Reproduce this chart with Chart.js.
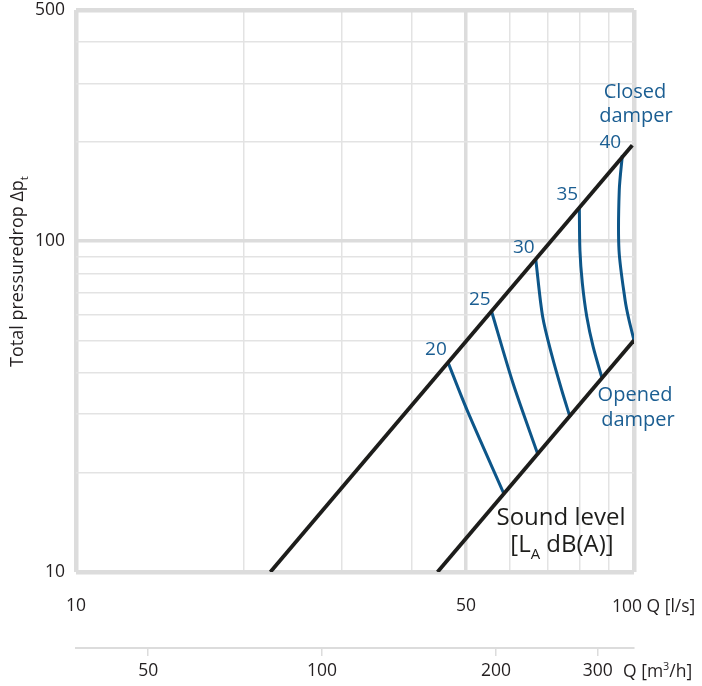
<!DOCTYPE html>
<html>
<head>
<meta charset="utf-8">
<script src="https://cdn.jsdelivr.net/npm/chart.js@4.4.1/dist/chart.umd.min.js"></script>
<style>
  html, body { margin: 0; padding: 0; background: #fff; }
  #wrap { width: 702px; height: 686px; position: relative; }
</style>
</head>
<body>
<div id="wrap"><canvas id="chart"></canvas></div>
<script>
// axis ticks (flow Q in l/s, pressure drop, flow in m3/h)
const qTicks = [10, 20, 30, 40, 50, 60, 70, 80, 90, 100];
const qLabels = { 10: '10', 50: '50' };
const pTicks = [10, 20, 30, 40, 50, 60, 70, 80, 90, 100, 200, 300, 400, 500];
const pLabels = { 10: '10', 100: '100', 500: '500' };
const m3hTicks = [50, 100, 200, 300];

// damper limit lines
const closedQ = [22.3, 99.3];
const closedP = [10, 195];
const openedQ = [44.45, 100];
const openedP = [10, 50.2];

// sound level curves, from closed line down to opened line
const soundLevels = [20, 25, 30, 35, 40];
const level20Q = [46.4, 50.2, 58.4];
const level20P = [43.1, 30.9, 17.3];
const level25Q = [55.6, 60.7, 67.3];
const level25P = [61.1, 37.2, 22.6];
const level30Q = [66.7, 68.6, 71.3, 74.2, 76.8];
const level30P = [87.6, 59.1, 45.0, 35.5, 29.4];
const level35Q = [79.8, 80.0, 80.8, 82.3, 84.5, 87.5];
const level35P = [126.9, 93.9, 74.7, 59.1, 47.9, 38.9];
const level40Q = [95.3, 94.1, 94.0, 96.4, 97.8, 100];
const level40P = [181.9, 142.6, 93.9, 66.3, 58.5, 50.2];

const levelQ = [level20Q, level25Q, level30Q, level35Q, level40Q];
const levelP = [level20P, level25P, level30P, level35P, level40P];

const BLACK = '#1d1d1b';
const BLUE = '#0d5689';
const TEXT_BLUE = '#1b5e92';
const LABEL = '#231f20';
const GRID = '#e3e3e3';
const FRAME = '#dcdcdc';
const FONT = "'Open Sans', sans-serif";

Chart.defaults.font.family = FONT;

const zip = (xs, ys) => xs.map((v, i) => ({ x: v, y: ys[i] }));

const datasets = [
    { data: zip(closedQ, closedP), borderColor: BLACK, borderWidth: 3.8 },
    { data: zip(openedQ, openedP), borderColor: BLACK, borderWidth: 3.8 }
];
soundLevels.forEach((lvl, i) => {
    datasets.push({
        label: String(lvl),
        data: zip(levelQ[i], levelP[i]),
        borderColor: BLUE,
        borderWidth: 3,
        tension: 0.3
    });
});
datasets.forEach(d => {
    d.showLine = true;
    d.pointRadius = 0;
    d.fill = false;
});

// grid widths: frame at the ends, heavier line at 50 / 100
const gridWidth = (v, lo, hi, heavy) => {
    if (v === lo || v === hi) return 4.5;
    if (v === heavy) return 3.5;
    return 1.5;
};
const gridColor = (v, lo, hi, heavy) => (v === lo || v === hi || v === heavy) ? FRAME : GRID;

// draw a string made of parts, some as sub/superscript
function richText(ctx, parts, x, y, size, color, align) {
    ctx.save();
    ctx.fillStyle = color;
    ctx.textBaseline = 'alphabetic';
    ctx.textAlign = 'left';
    let w = 0;
    parts.forEach(p => {
        const s = p.sub || p.sup ? size * 0.62 : size;
        ctx.font = s + 'px ' + FONT;
        p.w = ctx.measureText(p.t).width;
        w += p.w;
    });
    let cx = align === 'center' ? x - w / 2 : x;
    parts.forEach(p => {
        const s = p.sub || p.sup ? size * 0.62 : size;
        ctx.font = s + 'px ' + FONT;
        let dy = 0;
        if (p.sub) dy = size * 0.28;
        if (p.sup) dy = -size * 0.4;
        ctx.fillText(p.t, cx, y + dy);
        cx += p.w;
    });
    ctx.restore();
}

const notes = {
    id: 'notes',
    afterDatasetsDraw(chart) {
        const { ctx, scales: { x, y } } = chart;
        const right = x.getPixelForValue(100);

        // sound level numbers at the top of each curve
        soundLevels.forEach((lvl, i) => {
            const px = x.getPixelForValue(levelQ[i][0]);
            const py = y.getPixelForValue(levelP[i][0]);
            richText(ctx, [{ t: String(lvl) }], px - 12, py - 7, 19, TEXT_BLUE, 'center');
        });

        richText(ctx, [{ t: 'Closed' }], right + 1, 98, 20, TEXT_BLUE, 'center');
        richText(ctx, [{ t: 'damper' }], right + 2, 122, 20, TEXT_BLUE, 'center');
        richText(ctx, [{ t: 'Opened' }], right + 1, 401, 20, TEXT_BLUE, 'center');
        richText(ctx, [{ t: 'damper' }], right + 4, 426, 20, TEXT_BLUE, 'center');

        richText(ctx, [{ t: 'Sound level' }], 561, 525, 24, BLACK, 'center');
        richText(ctx, [{ t: '[L' }, { t: 'A', sub: true }, { t: ' dB(A)]' }], 562, 552, 24, BLACK, 'center');

        // axis units
        richText(ctx, [{ t: '100 Q [l/s]' }], right - 22, 612, 17.5, LABEL, 'left');
        richText(ctx, [{ t: 'Q [m' }, { t: '3', sup: true }, { t: '/h]' }], 623, 677, 17.5, LABEL, 'left');

        // y axis title
        ctx.save();
        ctx.translate(23, 367);
        ctx.rotate(-Math.PI / 2);
        richText(ctx, [{ t: 'Total pressuredrop \u0394p' }, { t: 't', sub: true }], 0, 0, 18, LABEL, 'left');
        ctx.restore();
    }
};

const tickFont = { family: FONT, size: 17.5 };

new Chart(document.getElementById('chart'), {
    type: 'scatter',
    data: { datasets: datasets },
    options: {
        responsive: true,
        maintainAspectRatio: false,
        animation: false,
        layout: { padding: { top: 10, right: 68, left: 0, bottom: 0 } },
        plugins: { legend: { display: false }, tooltip: { enabled: false } },
        scales: {
            x: {
                type: 'logarithmic',
                position: 'bottom',
                weight: 0,
                min: 10,
                max: 100,
                afterBuildTicks: s => { s.ticks = qTicks.map(v => ({ value: v })); },
                afterFit: s => { s.height = 76; s.paddingLeft = 0; s.paddingRight = 0; },
                grid: {
                    drawTicks: false,
                    color: c => gridColor(c.tick && c.tick.value, 10, 100, 50),
                    lineWidth: c => gridWidth(c.tick && c.tick.value, 10, 100, 50)
                },
                border: { display: false },
                ticks: {
                    autoSkip: false,
                    maxRotation: 0,
                    padding: 24,
                    color: LABEL,
                    font: tickFont,
                    callback: v => qLabels[v] || ''
                }
            },
            x2: {
                type: 'logarithmic',
                position: 'bottom',
                weight: 1,
                min: 37.5,
                max: 346.6,
                afterBuildTicks: s => { s.ticks = m3hTicks.map(v => ({ value: v })); },
                afterFit: s => { s.height = 38; s.paddingLeft = 0; s.paddingRight = 0; },
                grid: { drawOnChartArea: false, drawTicks: true, tickLength: 8, color: FRAME, lineWidth: 1.5 },
                border: { display: true, color: FRAME, width: 2 },
                ticks: {
                    autoSkip: false,
                    maxRotation: 0,
                    padding: 5,
                    color: LABEL,
                    font: tickFont,
                    callback: v => String(v)
                }
            },
            y: {
                type: 'logarithmic',
                min: 10,
                max: 500,
                afterBuildTicks: s => { s.ticks = pTicks.map(v => ({ value: v })); },
                afterFit: s => { s.width = 76; s.paddingTop = 0; s.paddingBottom = 0; },
                grid: {
                    drawTicks: false,
                    color: c => gridColor(c.tick && c.tick.value, 10, 500, 100),
                    lineWidth: c => gridWidth(c.tick && c.tick.value, 10, 500, 100)
                },
                border: { display: false },
                ticks: {
                    autoSkip: false,
                    padding: 11,
                    color: LABEL,
                    font: tickFont,
                    callback: v => pLabels[v] || ''
                }
            }
        }
    },
    plugins: [notes]
});
</script>
</body>
</html>
